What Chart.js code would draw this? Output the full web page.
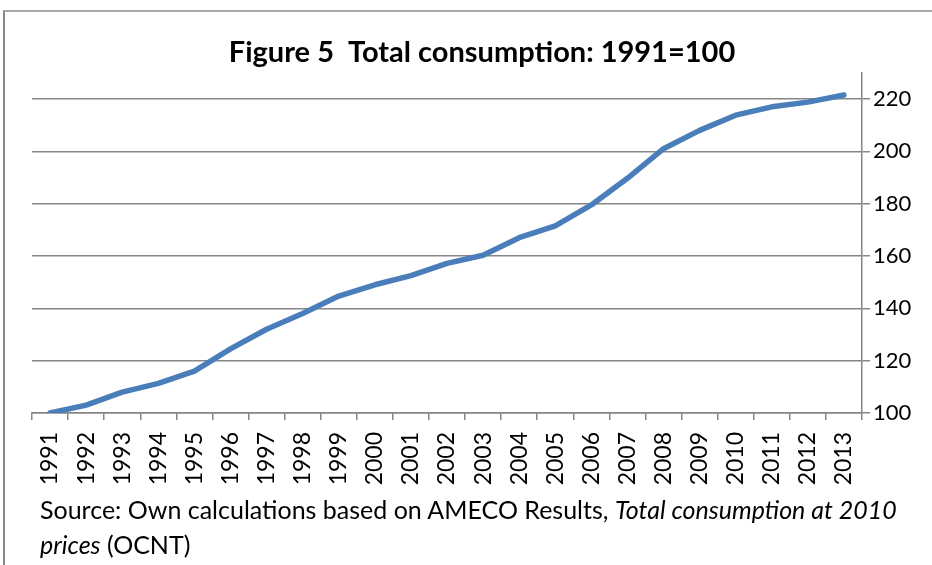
<!DOCTYPE html>
<html>
<head>
<meta charset="utf-8">
<script src="https://cdn.jsdelivr.net/npm/chart.js@4"></script>
<style>
  body { margin: 0; background: #fff; }
  #wrap { position: relative; width: 932px; height: 565px; overflow: hidden; }
  #frame { position: absolute; left: 3px; top: 10px; width: 950px; height: 600px;
           border-left: 2px solid #8a8a8a; border-top: 2px solid #a8a8a8; }
  canvas { position: absolute; left: 0; top: 0; }
  #source { position: absolute; left: 40px; top: 492px; font-family: Lato;
            font-size: 25px; line-height: 35px; color: #000; white-space: nowrap; }
</style>
</head>
<body>
<div id="wrap">
  <div id="frame"></div>
  <canvas id="consChart" width="932" height="565"></canvas>
  <div id="source">Source: Own calculations based on AMECO Results, <i>Total consumption at 2010</i><br><i>prices</i> (OCNT)</div>
</div>
<script>
// 1991 = 100, total consumption at 2010 prices
const years = ["1991", "1992", "1993", "1994", "1995", "1996", "1997", "1998", "1999", "2000", "2001", "2002",
               "2003", "2004", "2005", "2006", "2007", "2008", "2009", "2010", "2011", "2012", "2013"];
const consumption = [100, 103, 108, 111.3, 116, 124.5, 132, 138, 144.7, 149, 152.5, 157.2,
                     160.3, 167, 171.5, 179.5, 189.7, 201, 208, 213.8, 217, 218.8, 221.5];
const yTicks = { min: 100, max: 230, step: 20 };

const gridGray = "#868686";

new Chart("consChart", {
  type: "line",
  data: {
    labels: years,
    datasets: [{
      data: consumption,
      borderColor: "#4a7ebb",
      borderWidth: 5.5,
      pointRadius: 0,
      tension: 0,
      borderCapStyle: "round",
      borderJoinStyle: "round"
    }]
  },
  options: {
    responsive: false,
    animation: false,
    layout: { padding: { left: 32, right: 0, top: 0, bottom: 0 } },
    plugins: {
      legend: { display: false },
      tooltip: { enabled: false },
      title: {
        display: true,
        text: "Figure 5  Total consumption: 1991=100",
        color: "#000",
        font: { family: "Lato", size: 29, weight: "bold" },
        padding: { top: 35, bottom: 3 }
      }
    },
    scales: {
      x: {
        offset: true,
        grid: { drawOnChartArea: false, drawTicks: true, tickLength: 7, color: gridGray, lineWidth: 1.5, offset: true },
        border: { color: gridGray, width: 1.5 },
        ticks: {
          autoSkip: false, minRotation: 90, maxRotation: 90, padding: 12, color: "#000",
          font: { family: "Lato", size: 23 }
        },
        afterFit: s => { s.height = 152; }
      },
      y: {
        position: "right",
        min: yTicks.min,
        max: yTicks.max,
        grid: { color: gridGray, lineWidth: 1.5, tickLength: 8 },
        border: { color: gridGray, width: 1.5 },
        ticks: {
          stepSize: yTicks.step, includeBounds: false, padding: 3, color: "#000",
          font: { family: "Lato", size: 22 }
        },
        afterFit: s => { s.width = 70; }
      }
    }
  }
});
</script>
</body>
</html>
